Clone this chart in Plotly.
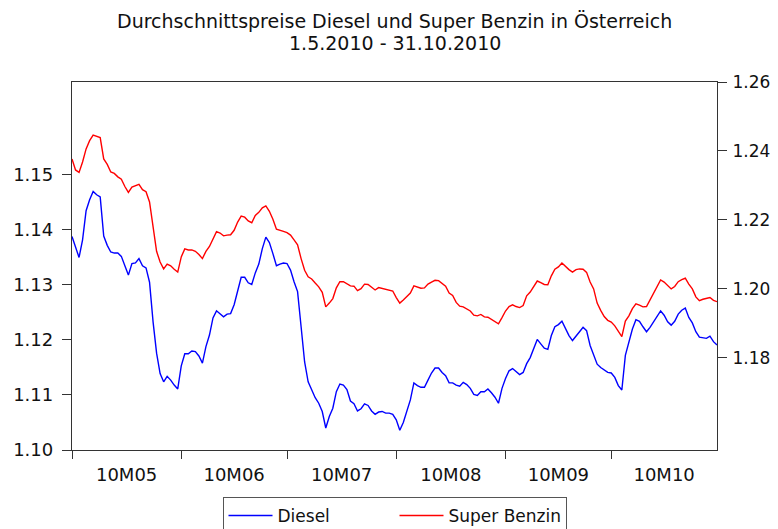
import pandas as pd
import plotly.graph_objects as go

dates = pd.date_range("2010-05-01", "2010-10-31", freq="D")

diesel = [
    1.1388, 1.1367, 1.1350, 1.1382, 1.1435, 1.1455, 1.1470, 1.1464, 1.1460, 1.1389,
    1.1372, 1.1360, 1.1358, 1.1358, 1.1352, 1.1335, 1.1318, 1.1339, 1.1340, 1.1348,
    1.1335, 1.1331, 1.1305, 1.1233, 1.1176, 1.1139, 1.1124, 1.1134, 1.1127, 1.1118,
    1.1111, 1.1153, 1.1175, 1.1175, 1.1180, 1.1179, 1.1171, 1.1158, 1.1188, 1.1209,
    1.1240, 1.1253, 1.1247, 1.1242, 1.1247, 1.1248, 1.1264, 1.1291, 1.1314, 1.1314,
    1.1304, 1.1301, 1.1322, 1.1338, 1.1366, 1.1387, 1.1377, 1.1357, 1.1335, 1.1338,
    1.1340, 1.1339, 1.1327, 1.1306, 1.1288, 1.1224, 1.1160, 1.1124, 1.1108, 1.1095,
    1.1085, 1.1070, 1.1040, 1.1061, 1.1076, 1.1106, 1.1120, 1.1118, 1.1110, 1.1089,
    1.1084, 1.1071, 1.1075, 1.1084, 1.1081, 1.1071, 1.1065, 1.1069, 1.1070, 1.1067,
    1.1067, 1.1065, 1.1055, 1.1036, 1.1050, 1.1070, 1.1091, 1.1122, 1.1117, 1.1114,
    1.1114, 1.1127, 1.1140, 1.1149, 1.1149, 1.1141, 1.1135, 1.1122, 1.1122, 1.1118,
    1.1116, 1.1123, 1.1119, 1.1112, 1.1101, 1.1099, 1.1106, 1.1106, 1.1111, 1.1104,
    1.1096, 1.1085, 1.1112, 1.1130, 1.1144, 1.1148, 1.1143, 1.1137, 1.1141, 1.1157,
    1.1168, 1.1185, 1.1201, 1.1193, 1.1185, 1.1183, 1.1208, 1.1224, 1.1228, 1.1234,
    1.1220, 1.1208, 1.1199, 1.1206, 1.1215, 1.1223, 1.1217, 1.1190, 1.1172, 1.1156,
    1.1150, 1.1145, 1.1141, 1.1140, 1.1132, 1.1117, 1.1109, 1.1172, 1.1195, 1.1220,
    1.1237, 1.1234, 1.1224, 1.1215, 1.1223, 1.1233, 1.1244, 1.1253, 1.1245, 1.1233,
    1.1227, 1.1234, 1.1247, 1.1254, 1.1258, 1.1241, 1.1231, 1.1215, 1.1205, 1.1204,
    1.1203, 1.1207, 1.1197, 1.1191,
]

super_benzin = [
    1.2377, 1.2345, 1.2338, 1.2368, 1.2406, 1.2430, 1.2446, 1.2443, 1.2439, 1.2377,
    1.2361, 1.2339, 1.2335, 1.2325, 1.2318, 1.2297, 1.2280, 1.2295, 1.2298, 1.2303,
    1.2288, 1.2282, 1.2252, 1.2174, 1.2109, 1.2078, 1.2058, 1.2072, 1.2067, 1.2057,
    1.2049, 1.2093, 1.2116, 1.2113, 1.2113, 1.2109, 1.2100, 1.2088, 1.2109, 1.2123,
    1.2146, 1.2166, 1.2162, 1.2154, 1.2156, 1.2157, 1.2170, 1.2194, 1.2211, 1.2208,
    1.2197, 1.2192, 1.2213, 1.2222, 1.2235, 1.2241, 1.2225, 1.2202, 1.2173, 1.2171,
    1.2167, 1.2163, 1.2156, 1.2142, 1.2128, 1.2088, 1.2054, 1.2035, 1.2029, 1.2017,
    1.2006, 1.1990, 1.1948, 1.1959, 1.1972, 1.2003, 1.2021, 1.2021, 1.2014, 1.2009,
    1.2008, 1.1995, 1.2001, 1.2014, 1.2013, 1.2005, 1.1997, 1.2004, 1.2002, 1.2000,
    1.1998, 1.1994, 1.1975, 1.1959, 1.1968, 1.1978, 1.1988, 1.2009, 1.2006, 1.2002,
    1.2003, 1.2014, 1.2020, 1.2025, 1.2024, 1.2015, 1.2008, 1.1988, 1.1981, 1.1961,
    1.1950, 1.1948, 1.1943, 1.1936, 1.1924, 1.1922, 1.1926, 1.1919, 1.1918, 1.1912,
    1.1906, 1.1899, 1.1917, 1.1936, 1.1949, 1.1954, 1.1949, 1.1946, 1.1952, 1.1980,
    1.1991, 1.2006, 1.2023, 1.2018, 1.2013, 1.2012, 1.2038, 1.2057, 1.2064, 1.2075,
    1.2064, 1.2056, 1.2049, 1.2056, 1.2058, 1.2057, 1.2048, 1.2020, 1.2000, 1.1959,
    1.1938, 1.1920, 1.1909, 1.1904, 1.1893, 1.1878, 1.1862, 1.1907, 1.1922, 1.1943,
    1.1957, 1.1953, 1.1948, 1.1949, 1.1969, 1.1988, 1.2010, 1.2026, 1.2020, 1.2009,
    1.2000, 1.2007, 1.2021, 1.2027, 1.2031, 1.2014, 1.2000, 1.1977, 1.1966, 1.1970,
    1.1972, 1.1975, 1.1967, 1.1963,
]

left_ticks = [1.10, 1.11, 1.12, 1.13, 1.14, 1.15]
right_ticks = [1.18, 1.20, 1.22, 1.24, 1.26]

title_lines = ["Durchschnittspreise Diesel und Super Benzin in Österreich",
               "1.5.2010 - 31.10.2010"]

FONT = "DejaVu Sans, Liberation Sans, Arial, sans-serif"
AXCOL = "#333333"
TXT = "#111111"

fig = go.Figure()
fig.add_trace(go.Scatter(x=dates, y=diesel, name="Diesel", mode="lines",
                         line=dict(color="#0000FF", width=1.4), yaxis="y"))
fig.add_trace(go.Scatter(x=dates, y=super_benzin, name="Super Benzin", mode="lines",
                         line=dict(color="#FF0000", width=1.4), yaxis="y2"))

# page body adds an 8px offset; margins compensate so the plot box lands where the reference has it
fig.update_layout(
    width=778, height=529,
    margin=dict(l=64, r=69, t=74, b=87, autoexpand=False),
    paper_bgcolor="white", plot_bgcolor="white",
    font=dict(family=FONT, size=18, color=TXT),
    showlegend=True,
    legend=dict(orientation="h", x=0.5, xanchor="center", xref="paper",
                y=1 - 489 / 529, yanchor="top", yref="container",
                bordercolor="#555555", borderwidth=1, bgcolor="white",
                font=dict(family=FONT, size=17, color=TXT), itemwidth=44,
                entrywidth=112, entrywidthmode="pixels",
                tracegroupgap=0),
    xaxis=dict(type="date", range=["2010-05-01", "2010-10-31"],
               tick0="2010-05-01", dtick="M1", ticklabelmode="period",
               tickformat="%yM%m", ticks="outside", ticklen=8, tickwidth=1,
               tickcolor=AXCOL, showline=True, linecolor=AXCOL, linewidth=1.3,
               mirror=True, showgrid=False, zeroline=False,
               tickfont=dict(family=FONT, size=18, color=TXT)),
    yaxis=dict(range=[1.10, 1.1669], tickvals=left_ticks, tickformat=".2f",
               ticks="outside", ticklen=9, tickwidth=1, tickcolor=AXCOL,
               showline=True, linecolor=AXCOL, linewidth=1.3, showgrid=False,
               zeroline=False, ticklabelstandoff=5,
               tickfont=dict(family=FONT, size=18, color=TXT)),
    yaxis2=dict(range=[1.1533, 1.26], tickvals=right_ticks, tickformat=".2f",
                overlaying="y", side="right", ticks="outside", ticklen=9,
                tickwidth=1, tickcolor=AXCOL, showline=True, linecolor=AXCOL,
                linewidth=1.3, showgrid=False, zeroline=False, ticklabelstandoff=2,
                tickfont=dict(family=FONT, size=17, color=TXT)),
)

# title as two centred lines above the plot box
plot_top = 74
plot_h = 529 - 74 - 87
for text, ycenter in zip(title_lines, [13, 35]):
    fig.add_annotation(text=text, xref="paper", x=0.5, xanchor="center",
                       yref="paper", y=1 + (plot_top - ycenter) / plot_h,
                       yanchor="middle", showarrow=False,
                       font=dict(family=FONT, size=19, color=TXT))

fig.write_html("out.html")
